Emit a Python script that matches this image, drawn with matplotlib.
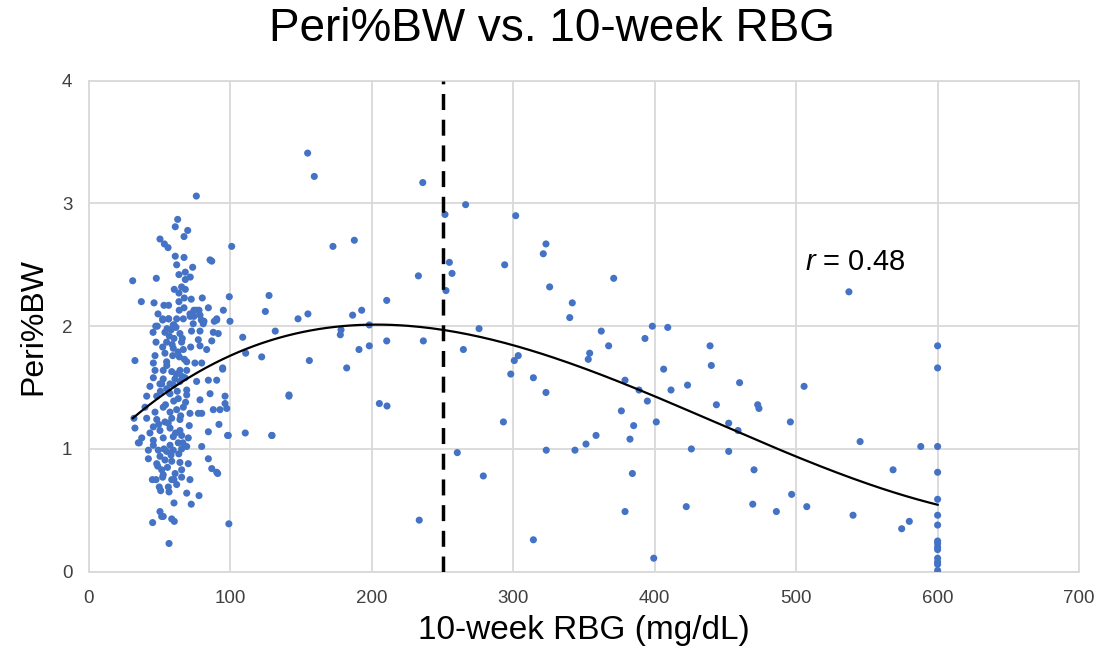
import numpy as np
import matplotlib
matplotlib.use('Agg')
import matplotlib.pyplot as plt

plt.rcParams['font.family'] = ['Liberation Sans', 'DejaVu Sans']
plt.rcParams['mathtext.fontset'] = 'custom'
plt.rcParams['mathtext.it'] = 'Liberation Sans:italic'
plt.rcParams['mathtext.rm'] = 'Liberation Sans'

# Dense cluster of low-RBG animals (x = RBG mg/dL, y = Peri%BW)
cluster_x = [75.9, 62.7, 61, 69.8, 67.2, 50.2, 53.3, 55.9, 61, 67.2, 85.6, 86.8, 62, 73.3, 68.1,
             63.6, 71.6, 30.9, 47.6, 68.1, 65.5, 60.3, 68.1, 63.6, 67.4, 72.3, 80.1, 37, 46,
             53, 56.3, 63.6, 67.2, 74.2, 76.1, 84.4, 95, 48.8, 56.3, 62, 52.1, 71.6, 78.5,
             81.3, 88.6, 90.3, 48.3, 60.1,
             63.8, 71.4, 74.2, 77.8, 52.1, 56.3, 66.7, 79.4, 90.3, 47.2, 59.6, 73.7, 80.8,
             45.3, 53.7, 58, 64.3, 56.8, 60.1, 72.5, 78.5, 87.9, 91.4, 47.4, 54.9, 65.5, 77.3,
             86.8, 52.1, 59.6, 66.7, 71.9, 78.5, 83.2, 46.7, 53.7, 59.2, 63.9, 32.5, 45.5,
             54.9, 69.1, 74.9, 79.7, 94.5, 46.7, 52.5, 58.5, 64.3, 69.1, 45.5, 52.5, 60.8,
             67.9, 76.1, 84.4, 90.3, 50.2, 57.3,
             43.1, 51.4, 54.9, 59.6, 64.3, 69.1, 85.6, 40.8, 47.9, 57.3, 63.1, 69.1, 78.5,
             96.2, 96.2, 97.4, 87.9, 92.6, 39.6, 46.7, 52.5, 57.3, 62, 66.7, 71.4, 77.3, 79.7,
             31.8, 40.8, 47.9, 53.7, 58.5, 64.3, 32.5, 45.5, 50.2, 57.3, 64.3, 70.9, 91.9,
             43.1, 84.4, 98.5, 37.3, 45.5, 52.5, 59.6, 65.5, 70.2, 34.9, 45.5, 49, 57.3, 63.1,
             69.1, 79.7, 42, 42, 50.2, 54.9, 59.6, 65.5, 53.7, 58.5, 64.3, 70.2, 84.4, 47.9,
             51.4, 65.5, 86.8, 90.3,
             52.5, 44.8, 47.4, 52.1, 58.5, 60.1, 65.5, 71.4, 91, 49.7, 56.1, 62, 50.7, 56.6,
             69.1, 77.8, 60.1, 72.3, 50.2, 51.4, 52.5, 45, 58.5, 60.3, 56.6, 35.6,
             99.2, 99.7, 100.9, 94.5, 98.0, 98.9, 108.7, 110.8, 122.1, 110.5, 129.2,
             55.2, 61.5, 66.0, 58.8, 63.0, 67.5, 55.0, 61.8, 65.9, 50.5, 56.5, 62.4, 68.3,
             54.1, 59.9, 64.8, 49.3, 56.0, 61.2, 66.4, 53.0, 58.0, 63.5, 48.6, 55.5, 60.9]
cluster_y = [3.06, 2.87, 2.81, 2.78, 2.73, 2.71, 2.67, 2.64, 2.57, 2.56, 2.54, 2.53, 2.50, 2.48, 2.44,
             2.42, 2.40, 2.37, 2.39, 2.38, 2.32, 2.30, 2.30, 2.27, 2.23, 2.22, 2.23, 2.20, 2.19,
             2.17, 2.17, 2.20, 2.15, 2.13, 2.13, 2.15, 2.13, 2.10, 2.06, 2.06, 2.05, 2.08, 2.09,
             2.04, 2.04, 2.06, 2.00, 2.01,
             2.13, 2.10, 2.08, 2.13, 2.06, 2.06, 2.06, 2.05, 2.05, 2.00, 2.01, 2.02, 2.02,
             1.95, 1.95, 1.97, 1.94, 1.92, 1.90, 1.96, 1.96, 1.95, 1.94, 1.87, 1.87, 1.87, 1.89,
             1.88, 1.83, 1.82, 1.81, 1.83, 1.84, 1.81, 1.76, 1.78, 1.76, 1.75, 1.72, 1.70,
             1.71, 1.71, 1.70, 1.70, 1.66, 1.64, 1.64, 1.63, 1.64, 1.64, 1.58, 1.57, 1.57,
             1.58, 1.55, 1.56, 1.56, 1.53, 1.53,
             1.51, 1.53, 1.49, 1.52, 1.55, 1.48, 1.45, 1.43, 1.43, 1.45, 1.41, 1.44, 1.40,
             1.43, 1.37, 1.33, 1.32, 1.32, 1.34, 1.30, 1.34, 1.30, 1.32, 1.34, 1.29, 1.29, 1.29,
             1.25, 1.25, 1.24, 1.22, 1.25, 1.24, 1.17, 1.18, 1.15, 1.17, 1.15, 1.19, 1.20,
             1.13, 1.14, 1.11, 1.09, 1.07, 1.09, 1.10, 1.11, 1.09, 1.05, 1.03, 0.99, 1.03, 1.05,
             1.02, 1.02, 0.99, 0.92, 0.94, 0.98, 0.99, 1.00, 0.91, 0.90, 0.89, 0.88, 0.92, 0.88,
             0.83, 0.83, 0.84, 0.81,
             0.79, 0.75, 0.75, 0.77, 0.75, 0.75, 0.77, 0.75, 0.80, 0.69, 0.69, 0.71, 0.66, 0.65,
             0.64, 0.62, 0.56, 0.55, 0.49, 0.45, 0.45, 0.40, 0.43, 0.41, 0.23, 1.05,
             2.24, 2.04, 2.65, 1.65, 1.11, 0.39, 1.91, 1.78, 1.75, 1.13, 1.11,
             1.98, 1.99, 1.90, 1.85, 1.79, 1.73, 1.68, 1.61, 1.59, 1.47, 1.46, 1.47, 1.38,
             1.36, 1.39, 1.27, 1.20, 1.21, 1.13, 1.05, 1.00, 0.95, 0.96, 0.86, 0.85, 0.80]

# Higher-RBG animals
spread_x = [154.6, 159.3, 236, 266.3, 251.7, 172.5, 187.6, 232.9, 254.8, 256.7, 252.4, 293.9,
            127.3, 124.7, 147.8, 154.8, 186.4, 192.8, 210.5, 275.8, 301.7, 131.7, 178.2, 177.7,
            198.2, 210.5, 236.4, 198.2, 190.9, 155.8, 182.2, 264.7, 300.7, 303.5,
            141.4, 141.4, 129.4, 205.3, 210.7, 298.2, 293.0, 260.4, 278.8, 233.5,
            323.1, 321.2, 325.7, 371, 341.7, 339.9, 362.2, 398.3, 409.2, 393.1, 367.4, 439.1,
            354, 353, 440, 406.3,
            314.2, 323.1, 423.2, 411.5, 460, 379, 388.9, 394.8, 376.4, 385.1, 382.5, 401.1,
            443.6, 472.8, 473.7, 452.3, 458.9, 495.9, 323.3, 343.6, 351.4, 358.5, 425.9,
            452.3, 384.2, 470.2, 496.8, 469.3, 486, 422.3, 379, 314.2, 399.3,
            537.3, 505.6, 545.2, 588.1, 568.5, 507.5, 540.2, 580, 574.6,
            600, 600, 600, 600, 600, 600, 600, 600, 600, 600, 600, 600, 600, 600, 600]
spread_y = [3.41, 3.22, 3.17, 2.99, 2.91, 2.65, 2.70, 2.41, 2.52, 2.43, 2.29, 2.50,
            2.25, 2.12, 2.06, 2.10, 2.09, 2.13, 2.21, 1.98, 2.90, 1.96, 1.97, 1.93,
            2.01, 1.88, 1.88, 1.84, 1.81, 1.72, 1.66, 1.81, 1.72, 1.76,
            1.44, 1.43, 1.11, 1.37, 1.35, 1.61, 1.22, 0.97, 0.78, 0.42,
            2.67, 2.59, 2.32, 2.39, 2.19, 2.07, 1.96, 2.00, 1.99, 1.90, 1.84, 1.84,
            1.78, 1.73, 1.68, 1.65,
            1.58, 1.46, 1.52, 1.48, 1.54, 1.56, 1.48, 1.39, 1.31, 1.19, 1.08, 1.22,
            1.36, 1.36, 1.33, 1.21, 1.15, 1.22, 0.99, 0.99, 1.04, 1.11, 1.00,
            0.98, 0.80, 0.83, 0.63, 0.55, 0.49, 0.53, 0.49, 0.26, 0.11,
            2.28, 1.51, 1.06, 1.02, 0.83, 0.53, 0.46, 0.41, 0.35,
            1.84, 1.66, 1.02, 0.81, 0.59, 0.46, 0.38, 0.25, 0.23, 0.20, 0.18, 0.11, 0.08, 0.06, 0.01]

trend_x = [31, 100, 210, 250, 300, 400, 500, 600]
trend_y = [1.24, 1.78, 2.01, 1.97, 1.83, 1.43, 0.95, 0.54]

cutoff = 250
r_value = 0.48

x = np.array(cluster_x + spread_x)
y = np.array(cluster_y + spread_y)

fig = plt.figure(figsize=(11.04, 6.64), dpi=100)
ax = fig.add_axes([0.0806, 0.139, 0.8968, 0.7395])

grid_c = '#d9d9d9'
ax.set_xlim(0, 700)
ax.set_ylim(0, 4)
ax.set_xticks(range(0, 701, 100))
ax.set_yticks(range(0, 5))
ax.grid(True, color=grid_c, linewidth=1.3)
ax.set_axisbelow(True)
for s in ax.spines.values():
    s.set_color(grid_c)
    s.set_linewidth(1.3)
ax.tick_params(length=0, labelsize=13.5, colors='#404040')
ax.tick_params(axis='x', pad=13)
ax.tick_params(axis='y', pad=12)

ax.scatter(x, y, s=26, color='#4472C4', edgecolors='none', zorder=3)

# cubic trendline
coef = np.polyfit(trend_x, trend_y, 3)
xs = np.linspace(min(trend_x), max(trend_x), 200)
ax.plot(xs, np.polyval(coef, xs), color='black', linewidth=1.6, zorder=4)

ax.axvline(cutoff, color='black', linewidth=2.5, dashes=(4.6, 2.8), zorder=5)

ax.text(506, 2.52, '$r$ = 0.%d' % round(r_value * 100), fontsize=21, ha='left', va='center')

ax.set_xlabel('10-week RBG (mg/dL)', fontsize=24, labelpad=6)
ax.set_ylabel('Peri%BW', fontsize=23, labelpad=10)
fig.suptitle('Peri%BW vs. 10-week RBG', fontsize=33, y=0.99)

fig.savefig('out.png', dpi=100)
